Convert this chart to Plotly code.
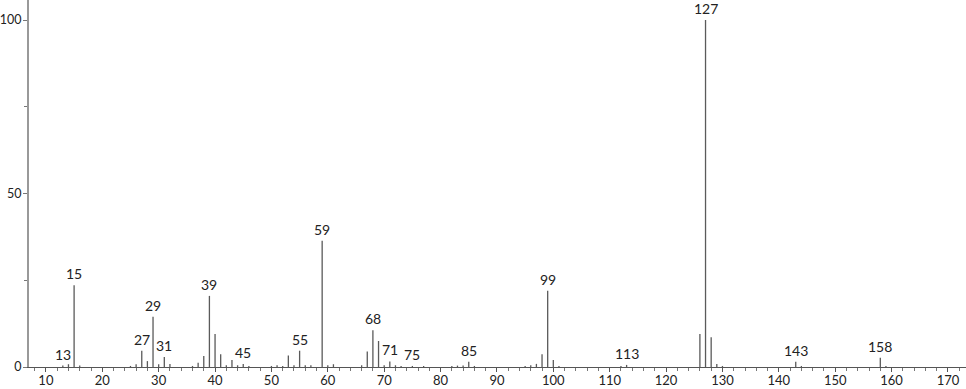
import plotly.graph_objects as go

mz = [13, 14, 15, 16, 25, 26, 27, 28, 29, 30, 31, 32, 36, 37, 38, 39, 40, 41, 42, 43,
      44, 45, 46, 50, 51, 52, 53, 54, 55, 56, 57, 59, 60, 61, 66, 67, 68, 69, 70, 71,
      72, 73, 75, 77, 82, 83, 84, 85, 86, 95, 96, 97, 98, 99, 100, 101, 112, 113, 126,
      127, 128, 129, 130, 143, 144, 158, 159]
intensity = [0.4, 0.8, 23.6, 0.4, 0.3, 0.8, 4.7, 1.7, 14.5, 0.8, 2.9, 0.9, 0.3, 1.2, 3.2,
             20.5, 9.5, 3.7, 0.5, 2.0, 0.5, 0.9, 0.3, 0.3, 0.5, 0.3, 3.3, 0.5, 4.7, 0.5,
             0.5, 36.4, 0.5, 0.8, 0.5, 4.5, 10.6, 7.5, 0.5, 1.6, 0.5, 0.3, 0.3, 0.3, 0.3,
             0.4, 0.4, 1.5, 0.3, 0.3, 0.5, 0.9, 3.7, 22.0, 2.0, 0.3, 0.3, 0.6, 9.5, 100.0,
             8.6, 0.9, 0.3, 1.5, 0.3, 2.7, 0.3]
labeled = [13, 15, 27, 29, 31, 39, 45, 55, 59, 68, 71, 75, 85, 99, 113, 127, 143, 158]
x_ticks = list(range(10, 171, 10))
y_ticks = [0, 50, 100]

xs, ys = [], []
for m, v in zip(mz, intensity):
    xs += [m, m, None]
    ys += [0, v, None]

fig = go.Figure()
fig.add_trace(go.Scatter(x=xs, y=ys, mode="lines",
                         line=dict(color="#5a5a5a", width=1.3),
                         hoverinfo="skip", showlegend=False))

lookup = dict(zip(mz, intensity))
for m in labeled:
    fig.add_annotation(x=m, y=lookup[m], text=str(m), showarrow=False,
                       yanchor="bottom", yshift=1,
                       font=dict(family="Lato, DejaVu Sans", size=14, color="#222"))

fig.update_layout(
    width=966, height=389,
    margin=dict(l=29, r=0, t=0, b=22),
    paper_bgcolor="white", plot_bgcolor="white",
    font=dict(family="Lato, DejaVu Sans", size=13, color="#222"),
    showlegend=False,
    xaxis=dict(range=[7, 173.2], tickvals=x_ticks, ticks="outside", ticklen=4,
               tickcolor="#555", showgrid=False, zeroline=False, automargin=False,
               showline=True, linecolor="#555", linewidth=1, ticklabelstandoff=-3,
               minor=dict(dtick=2, tick0=0, ticks="outside", ticklen=3, tickcolor="#777"),
               tickfont=dict(size=13)),
    yaxis=dict(range=[0, 105.8], tickvals=y_ticks, ticks="outside", ticklen=4,
               tickcolor="#777", showgrid=False, zeroline=False, automargin=False,
               showline=True, linecolor="#999", linewidth=2, ticklabelstandoff=-1,
               minor=dict(dtick=25, tick0=0, ticks="outside", ticklen=3, tickcolor="#777"),
               tickfont=dict(size=12.5)),
)

fig.write_html("out.html")
